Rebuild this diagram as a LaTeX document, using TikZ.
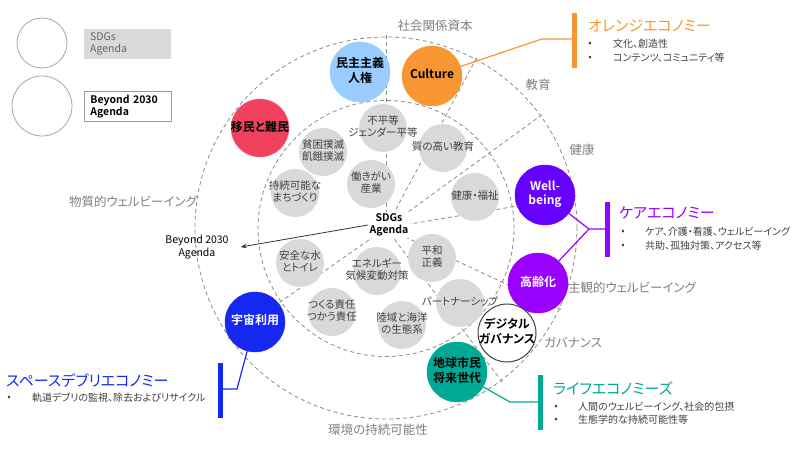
\documentclass[tikz,border=0pt]{standalone}
\usepackage{fontspec}
\setmainfont{Noto Sans CJK JP}[BoldFont={Noto Sans CJK JP Bold}, RawFeature=+palt]
\usetikzlibrary{arrows.meta}
\definecolor{sdggray}{RGB}{217,217,217}
\definecolor{darktext}{RGB}{64,64,64}
\definecolor{labelgray}{RGB}{128,128,128}
\definecolor{dashgray}{RGB}{140,140,140}
\definecolor{ltblue}{RGB}{153,204,255}
\definecolor{orangeC}{RGB}{247,150,50}
\definecolor{redC}{RGB}{240,65,95}
\definecolor{wellC}{RGB}{102,0,255}
\definecolor{careC}{RGB}{153,0,255}
\definecolor{tealC}{RGB}{0,168,150}
\definecolor{blueC}{RGB}{20,40,240}
\newcommand\ztext[1]{\makebox[0pt][c]{\begin{tabular}{@{}c@{}}#1\end{tabular}}}
\tikzset{
  dline/.style={draw=dashgray, line width=0.8pt, dash pattern=on 4pt off 3pt},
  sdg/.style={circle, fill=sdggray, minimum size=48pt, inner sep=0pt, text=darktext, font=\fontsize{10.5}{12.5}\selectfont},
  bignode/.style={circle, minimum size=60pt, inner sep=0pt, font=\bfseries\fontsize{12}{14}\selectfont},
  sector/.style={text=labelgray, font=\fontsize{12.5}{14}\selectfont, inner sep=0pt},
  ectitle/.style={anchor=west, inner sep=0pt, font=\fontsize{15}{17}\selectfont},
  ecbul/.style={anchor=center, inner sep=0pt, text=darktext, font=\fontsize{10}{12}\selectfont},
  ectext/.style={anchor=west, inner sep=0pt, text=darktext, font=\fontsize{10}{12}\selectfont},
  bar/.style={line width=5pt},
  conn/.style={line width=1.2pt},
}
\begin{document}
\begin{tikzpicture}[x=1pt,y=-1pt]
\useasboundingbox (0,0) rectangle (800,460);
% legend
\node[circle, draw=gray!70, line width=0.8pt, minimum size=50pt, inner sep=0pt] (lgsdg) at (42,43) {};
\node[circle, draw=gray!70, line width=0.8pt, minimum size=60pt, inner sep=0pt] (lgbey) at (42,106) {};
\node[anchor=north west, fill=sdggray, minimum width=87pt, minimum height=29pt, text width=75pt, inner xsep=6pt, align=left, text=darktext!80, font=\fontsize{10.5}{12.5}\selectfont] (lgsdgbox) at (84,29) {SDGs\\Agenda};
\node[anchor=north west, draw=gray!80, line width=0.7pt, minimum width=87pt, minimum height=30pt, text width=75pt, inner xsep=6pt, align=left, font=\bfseries\fontsize{10.5}{12.5}\selectfont] (lgbeybox) at (84,91) {Beyond 2030\\Agenda};
% circles and radial lines
\coordinate (C) at (386,228);
\draw[dline] (386,228) circle[radius=191pt];
\draw[dline] (386,228.5) circle[radius=128pt];
\coordinate (r1) at (386,34);
\coordinate (r2) at (477,57);
\coordinate (r3) at (543,114);
\coordinate (r4) at (577,196);
\coordinate (r5) at (562,310);
\coordinate (r6) at (503,383);
\coordinate (r7) at (227,339);
\foreach \r in {r1,r2,r3,r4,r5,r6,r7} \draw[dline] (C) -- (\r);
% SDG circles
\node[sdg] (s1) at (383,128) {\ztext{不平等\\ジェンダー平等}};
\node[sdg] (s2) at (323,152) {\ztext{貧困撲滅\\飢餓撲滅}};
\node[sdg] (s3) at (443,148) {\ztext{質の高い教育}};
\node[sdg] (s4) at (295,193) {\ztext{持続可能な\\まちづくり}};
\node[sdg] (s5) at (371,184) {\ztext{働きがい\\産業}};
\node[sdg] (s6) at (475,197) {\ztext{健康・福祉}};
\node[sdg] (s7) at (300,263) {\ztext{安全な水\\とトイレ}};
\node[sdg] (s8) at (377,271) {\ztext{エネルギー\\気候変動対策}};
\node[sdg] (s9) at (432,258) {\ztext{平和\\正義}};
\node[sdg] (s10) at (332,312) {\ztext{つくる責任\\つかう責任}};
\node[sdg] (s11) at (460,303) {\ztext{パートナーシップ}};
\node[sdg] (s12) at (402,325) {\ztext{陸域と海洋\\の生態系}};
% colored circles
\node[bignode, fill=ltblue, draw=ltblue] (demo) at (360,72) {\ztext{民主主義\\人権}};
\node[bignode, fill=orangeC, draw=orangeC] (cult) at (432,76) {\ztext{Culture}};
\node[bignode, fill=redC, draw=redC!80!white, minimum size=58pt] (imm) at (260,128) {\ztext{移民と難民}};
\node[bignode, fill=wellC, draw=wellC, text=white] (well) at (545,195) {\ztext{Well-\\being}};
\node[bignode, fill=careC, draw=careC, text=white] (aging) at (538,283) {\ztext{高齢化}};
\node[bignode, fill=white, draw=darktext, line width=1pt, minimum size=58pt] (digi) at (507,333) {\ztext{デジタル\\ガバナンス}};
\node[bignode, fill=tealC, draw=tealC] (earth) at (457,372) {\ztext{地球市民\\将来世代}};
\node[bignode, fill=blueC, draw=blueC, text=white] (space) at (255,322) {\ztext{宇宙利用}};
% center label and arrow
\node[fill=white, inner sep=1.5pt, align=center, font=\bfseries\fontsize{10.5}{12}\selectfont] (sdga) at (389,225) {SDGs\\Agenda};
\node[align=center, inner xsep=12pt, inner ysep=1pt, font=\fontsize{10.5}{12.5}\selectfont] (beylbl) at (197,247) {Beyond 2030\\Agenda};
\draw[-{Stealth[length=6pt,width=4.5pt]}, line width=0.8pt, black!80] (sdga.west) -- (beylbl.east);
% sector labels
\node[sector] (l1) at (435,26) {社会関係資本};
\node[sector] (l2) at (538,85) {教育};
\node[sector] (l3) at (582,150) {健康};
\node[sector] (l4) at (632,288) {主観的ウェルビーイング};
\node[sector] (l5) at (573,343) {ガバナンス};
\node[sector] (l6) at (378,430) {環境の持続可能性};
\node[sector] (l7) at (133,202) {物質的ウェルビーイング};
% orange economy
\coordinate (otop) at (574,13);
\coordinate (obot) at (574,68);
\coordinate (oj) at (542,39);
\coordinate (ob) at (574,39);
\draw[bar, orangeC] (otop) -- (obot);
\draw[conn, orangeC] (cult) -- (oj) -- (ob);
\node[ectitle, text=orangeC] (ot) at (588,26) {オレンジエコノミー};
\node[ecbul] (ob1) at (590,44) {•};
\node[ectext] (ot1) at (613,44) {文化、創造性};
\node[ecbul] (ob2) at (590,58) {•};
\node[ectext] (ot2) at (613,58) {コンテンツ、コミュニティ等};
% care economy
\coordinate (ctop) at (607,202);
\coordinate (cbot) at (607,257);
\coordinate (cj) at (589,229);
\coordinate (cb) at (607,229);
\draw[bar, careC] (ctop) -- (cbot);
\draw[conn, careC] (well) -- (cj) -- (cb);
\draw[conn, careC] (aging) -- (cj);
\node[ectitle, text=careC] (ct) at (619,213) {ケアエコノミー};
\node[ecbul] (cb1) at (623,232) {•};
\node[ectext] (ct1) at (645,232) {ケア、介護・看護、ウェルビーイング};
\node[ecbul] (cb2) at (623,246) {•};
\node[ectext] (ct2) at (645,246) {共助、孤独対策、アクセス等};
% life economies
\coordinate (ltop) at (540,375);
\coordinate (lbot) at (540,430);
\coordinate (lj) at (510,402);
\coordinate (lb) at (540,402);
\draw[bar, tealC] (ltop) -- (lbot);
\draw[conn, tealC] (earth) -- (lj) -- (lb);
\node[ectitle, text=tealC] (lt) at (553,388) {ライフエコノミーズ};
\node[ecbul] (lb1) at (556,407) {•};
\node[ectext] (lt1) at (578,407) {人間のウェルビーイング、社会的包摂};
\node[ecbul] (lb2) at (556,420) {•};
\node[ectext] (lt2) at (578,420) {生態学的な持続可能性等};
% space debris economy
\coordinate (stop) at (220,363);
\coordinate (sbot) at (220,418);
\coordinate (sj) at (237,389);
\coordinate (sb) at (220,389);
\draw[bar, blueC] (stop) -- (sbot);
\draw[conn, blueC] (space) -- (sj) -- (sb);
\node[ectitle, text=blueC] (st) at (6,380) {スペースデブリエコノミー};
\node[ecbul] (sb1) at (9,398) {•};
\node[ectext] (st1) at (32,398) {軌道デブリの監視、除去およびリサイクル};
\end{tikzpicture}
\end{document}
